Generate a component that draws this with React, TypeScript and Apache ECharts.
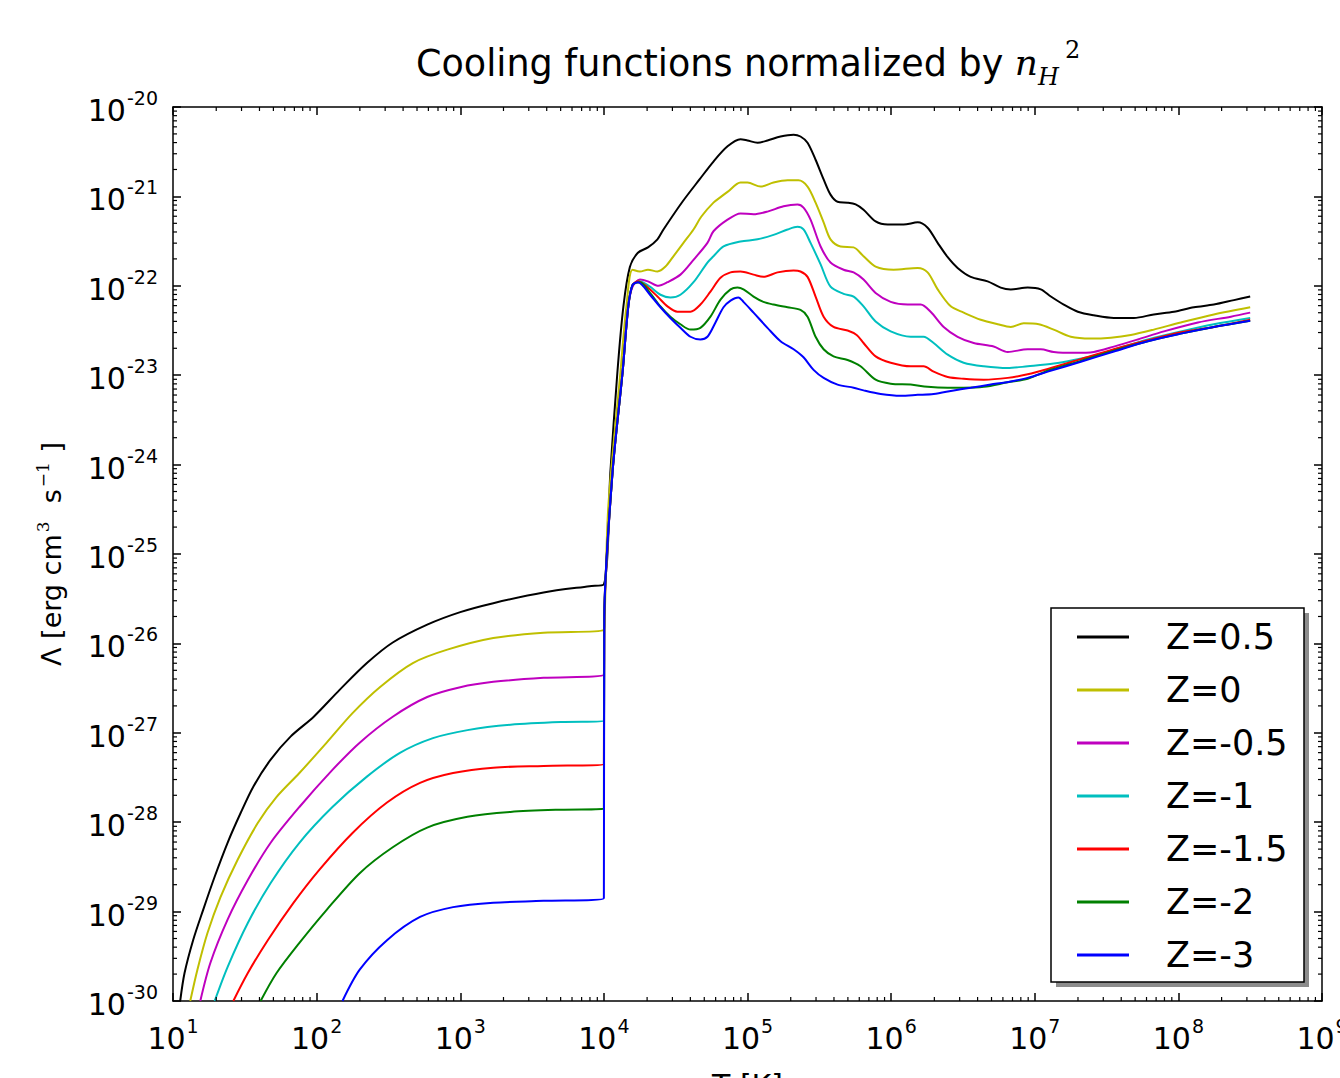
import React, { useEffect, useRef } from "react";
import * as echarts from "echarts";

// log10(T [K]) , log10(Lambda [erg cm^3 s^-1]) pairs
const seriesNames = ["Z=0.5", "Z=0", "Z=-0.5", "Z=-1", "Z=-1.5", "Z=-2", "Z=-3"];
const seriesColors = ["#000000", "#bfbf00", "#bf00bf", "#00bfbf", "#ff0000", "#008000", "#0000ff"];
const xDecades = [1, 2, 3, 4, 5, 6, 7, 8, 9];
const yDecades = [-30, -29, -28, -27, -26, -25, -24, -23, -22, -21, -20];

const z05 = [
  [1.05, -30.0], [1.08, -29.69], [1.14, -29.32], [1.21, -28.98], [1.29, -28.61], [1.38, -28.23], [1.47, -27.9],
  [1.56, -27.6], [1.68, -27.3], [1.82, -27.04], [1.98, -26.82], [2.16, -26.52], [2.35, -26.22], [2.53, -25.99],
  [2.77, -25.79], [3.0, -25.65], [3.23, -25.55], [3.58, -25.43], [3.9, -25.36], [4.0, -25.34],
  [4.045, -24.09], [4.094, -22.97], [4.136, -22.23], [4.181, -21.79], [4.237, -21.63], [4.307, -21.57], [4.373, -21.48],
  [4.415, -21.37], [4.547, -21.06], [4.666, -20.81], [4.763, -20.61], [4.861, -20.44], [4.951, -20.36], [5.0, -20.375],
  [5.07, -20.4], [5.139, -20.375], [5.23, -20.33], [5.321, -20.31], [5.369, -20.33], [5.418, -20.4], [5.474, -20.59],
  [5.53, -20.81], [5.578, -20.98], [5.627, -21.06], [5.697, -21.07], [5.753, -21.09], [5.808, -21.15], [5.892, -21.28],
  [5.976, -21.315], [6.087, -21.315], [6.185, -21.29], [6.254, -21.35], [6.324, -21.52], [6.394, -21.68], [6.463, -21.8],
  [6.554, -21.9], [6.672, -21.95], [6.763, -22.02], [6.833, -22.04], [6.951, -22.02], [7.042, -22.04], [7.112, -22.12],
  [7.202, -22.21], [7.3, -22.29], [7.411, -22.33], [7.551, -22.36], [7.69, -22.36], [7.829, -22.32], [7.969, -22.29],
  [8.108, -22.24], [8.247, -22.21], [8.387, -22.16], [8.5, -22.12],
];

const z0 = [
  [1.12, -30.0], [1.17, -29.65], [1.24, -29.24], [1.33, -28.84], [1.45, -28.42], [1.59, -28.01], [1.72, -27.72],
  [1.88, -27.45], [2.07, -27.11], [2.25, -26.78], [2.44, -26.49], [2.67, -26.22], [2.91, -26.07], [3.23, -25.94],
  [3.58, -25.88], [4.0, -25.85],
  [4.005, -25.73], [4.031, -24.47], [4.115, -22.97], [4.157, -22.23], [4.199, -21.82], [4.251, -21.84], [4.307, -21.82],
  [4.373, -21.84], [4.429, -21.785], [4.484, -21.67], [4.554, -21.52], [4.624, -21.37], [4.679, -21.225], [4.763, -21.07],
  [4.819, -21.0], [4.861, -20.95], [4.951, -20.845], [5.0, -20.845], [5.091, -20.89], [5.181, -20.845], [5.279, -20.82],
  [5.355, -20.82], [5.418, -20.89], [5.474, -21.07], [5.53, -21.29], [5.578, -21.48], [5.648, -21.56], [5.739, -21.57],
  [5.808, -21.67], [5.892, -21.785], [6.017, -21.82], [6.185, -21.8], [6.254, -21.85], [6.324, -22.04], [6.415, -22.23],
  [6.505, -22.3], [6.624, -22.38], [6.742, -22.43], [6.833, -22.46], [6.923, -22.42], [7.028, -22.43], [7.132, -22.49],
  [7.251, -22.57], [7.39, -22.59], [7.53, -22.58], [7.669, -22.55], [7.829, -22.49], [8.017, -22.41], [8.247, -22.32],
  [8.5, -22.24],
];

const zm05 = [
  [1.19, -30.0], [1.26, -29.575], [1.38, -29.09], [1.52, -28.65], [1.68, -28.23], [1.88, -27.83], [2.11, -27.415],
  [2.3, -27.11], [2.53, -26.82], [2.77, -26.6], [3.0, -26.49], [3.23, -26.43], [3.58, -26.385], [4.0, -26.35],
  [4.003, -25.7], [4.06, -24.09], [4.13, -22.97], [4.17, -22.23], [4.2, -22.01], [4.251, -21.93], [4.307, -21.95],
  [4.38, -22.0], [4.443, -21.96], [4.533, -21.875], [4.624, -21.71], [4.721, -21.52], [4.763, -21.39], [4.861, -21.26],
  [4.951, -21.19], [5.042, -21.2], [5.139, -21.17], [5.251, -21.11], [5.348, -21.09], [5.39, -21.125], [5.439, -21.26],
  [5.509, -21.56], [5.578, -21.74], [5.669, -21.82], [5.739, -21.85], [5.808, -21.93], [5.892, -22.08], [5.997, -22.18],
  [6.115, -22.21], [6.206, -22.21], [6.275, -22.29], [6.366, -22.46], [6.463, -22.57], [6.575, -22.64], [6.714, -22.68],
  [6.812, -22.74], [6.951, -22.71], [7.042, -22.71], [7.132, -22.74], [7.272, -22.75], [7.411, -22.74], [7.551, -22.68],
  [7.718, -22.6], [7.899, -22.51], [8.136, -22.41], [8.366, -22.345], [8.5, -22.3],
];

const zm1 = [
  [1.29, -30.0], [1.38, -29.62], [1.52, -29.13], [1.68, -28.68], [1.88, -28.23], [2.11, -27.83], [2.35, -27.49],
  [2.58, -27.225], [2.81, -27.06], [3.05, -26.97], [3.35, -26.91], [3.7, -26.88], [4.0, -26.87],
  [4.003, -25.7], [4.06, -24.09], [4.13, -22.97], [4.17, -22.23], [4.2, -21.99], [4.245, -21.95], [4.321, -22.01],
  [4.394, -22.1], [4.463, -22.13], [4.533, -22.1], [4.624, -21.96], [4.721, -21.74], [4.763, -21.67], [4.833, -21.56],
  [4.951, -21.505], [5.07, -21.48], [5.181, -21.43], [5.279, -21.37], [5.348, -21.34], [5.39, -21.37], [5.439, -21.52],
  [5.509, -21.76], [5.578, -22.01], [5.669, -22.09], [5.739, -22.12], [5.808, -22.23], [5.892, -22.4], [5.997, -22.51],
  [6.136, -22.57], [6.226, -22.57], [6.296, -22.64], [6.394, -22.77], [6.505, -22.86], [6.645, -22.9], [6.812, -22.92],
  [6.951, -22.9], [7.132, -22.87], [7.272, -22.83], [7.439, -22.77], [7.599, -22.69], [7.787, -22.6], [8.017, -22.51],
  [8.247, -22.43], [8.5, -22.36],
];

const zm15 = [
  [1.42, -30.0], [1.52, -29.69], [1.66, -29.32], [1.84, -28.9], [2.02, -28.53], [2.25, -28.12], [2.49, -27.78],
  [2.72, -27.56], [2.95, -27.45], [3.23, -27.39], [3.58, -27.37], [4.0, -27.35],
  [4.003, -25.7], [4.06, -24.09], [4.13, -22.97], [4.17, -22.23], [4.2, -21.99], [4.237, -21.95], [4.3, -22.01],
  [4.373, -22.12], [4.443, -22.23], [4.512, -22.29], [4.603, -22.29], [4.672, -22.21], [4.742, -22.065], [4.812, -21.91],
  [4.882, -21.85], [4.951, -21.84], [5.042, -21.875], [5.111, -21.9], [5.209, -21.85], [5.321, -21.83], [5.369, -21.84],
  [5.418, -21.9], [5.474, -22.12], [5.53, -22.345], [5.599, -22.46], [5.697, -22.5], [5.76, -22.55], [5.808, -22.64],
  [5.892, -22.79], [5.997, -22.86], [6.136, -22.9], [6.226, -22.9], [6.296, -22.96], [6.394, -23.02], [6.505, -23.04],
  [6.645, -23.05], [6.812, -23.03], [6.951, -22.99], [7.091, -22.93], [7.321, -22.82], [7.551, -22.71], [7.787, -22.61],
  [8.017, -22.52], [8.247, -22.46], [8.5, -22.38],
];

const zm2 = [
  [1.61, -30.0], [1.72, -29.69], [1.88, -29.35], [2.07, -28.98], [2.3, -28.57], [2.53, -28.28], [2.77, -28.06],
  [3.05, -27.94], [3.35, -27.885], [3.7, -27.86], [4.0, -27.85],
  [4.003, -25.7], [4.06, -24.09], [4.13, -22.97], [4.17, -22.23], [4.2, -21.99], [4.251, -21.96], [4.321, -22.08],
  [4.394, -22.23], [4.463, -22.345], [4.533, -22.43], [4.603, -22.49], [4.672, -22.47], [4.742, -22.345], [4.812, -22.155],
  [4.882, -22.04], [4.93, -22.02], [4.972, -22.04], [5.042, -22.12], [5.111, -22.18], [5.181, -22.21], [5.279, -22.24],
  [5.369, -22.27], [5.418, -22.345], [5.474, -22.57], [5.53, -22.71], [5.599, -22.79], [5.697, -22.83], [5.787, -22.9],
  [5.892, -23.05], [5.997, -23.095], [6.136, -23.105], [6.254, -23.13], [6.394, -23.14], [6.505, -23.14], [6.645, -23.13],
  [6.812, -23.08], [6.951, -23.04], [7.091, -22.95], [7.321, -22.84], [7.551, -22.725], [7.787, -22.62], [8.017, -22.535],
  [8.247, -22.46], [8.5, -22.39],
];

const zm3 = [
  [2.18, -30.0], [2.3, -29.65], [2.49, -29.32], [2.72, -29.06], [2.95, -28.95], [3.23, -28.9], [3.58, -28.88], [4.0, -28.85],
  [4.003, -25.7], [4.06, -24.09], [4.13, -22.97], [4.17, -22.23], [4.2, -21.99], [4.237, -21.96], [4.321, -22.1],
  [4.394, -22.24], [4.463, -22.36], [4.533, -22.47], [4.603, -22.57], [4.672, -22.6], [4.721, -22.57], [4.777, -22.41],
  [4.833, -22.24], [4.882, -22.165], [4.937, -22.13], [4.972, -22.18], [5.042, -22.3], [5.139, -22.47], [5.23, -22.62],
  [5.321, -22.71], [5.39, -22.8], [5.46, -22.94], [5.53, -23.03], [5.627, -23.105], [5.739, -23.14], [5.808, -23.17],
  [5.927, -23.21], [6.066, -23.23], [6.185, -23.22], [6.296, -23.21], [6.436, -23.17], [6.554, -23.14], [6.693, -23.105],
  [6.833, -23.07], [6.951, -23.03], [7.091, -22.96], [7.321, -22.85], [7.551, -22.735], [7.787, -22.62], [8.017, -22.535],
  [8.247, -22.46], [8.5, -22.39],
];

const seriesData = [z05, z0, zm05, zm1, zm15, zm2, zm3];

// minor tick positions (log10 of 2..9 within each decade)
const minorFactors = [2, 3, 4, 5, 6, 7, 8, 9];

const SANS = "DejaVu Sans";
const SERIF = "DejaVu Serif";

function buildOption() {
  const xMin = xDecades[0];
  const xMax = xDecades[xDecades.length - 1];
  const yMin = yDecades[0];
  const yMax = yDecades[yDecades.length - 1];

  const xMinor: number[][] = [];
  for (let d = xMin; d < xMax; d++) minorFactors.forEach((k) => xMinor.push([d + Math.log10(k), yMin]));
  const yMinor: number[][] = [];
  for (let d = yMin; d < yMax; d++) minorFactors.forEach((k) => yMinor.push([xMin, d + Math.log10(k)]));

  const tickRich = {
    b: { fontSize: 30, fontFamily: SANS, fontWeight: "normal", color: "#000", lineHeight: 32, verticalAlign: "bottom" },
    s: { fontSize: 19, fontFamily: SANS, fontWeight: "normal", color: "#000", verticalAlign: "top", padding: [0, 0, 18, 1] },
  };
  const fmt = (v: number) => "{b|10}{s|" + Math.round(v) + "}";

  const axisLine = { show: true, onZero: false, lineStyle: { color: "#000", width: 1.5 } };
  const majorTick = { show: true, inside: true, length: 8, lineStyle: { color: "#000", width: 1.5 } };

  const baseX = { type: "value", min: xMin, max: xMax, interval: 1, splitLine: { show: false }, axisLine, axisTick: majorTick };
  const baseY = { type: "value", min: yMin, max: yMax, interval: 1, splitLine: { show: false }, axisLine, axisTick: majorTick };

  const lineSeries = seriesNames.map((name, i) => ({
    name,
    type: "line",
    data: seriesData[i],
    color: seriesColors[i],
    showSymbol: false,
    symbol: "none",
    smooth: 0.3,
    lineStyle: { color: seriesColors[i], width: 2 },
    clip: true,
    z: 3,
  }));

  const minorStyle = { stroke: "#000", lineWidth: 1.2 };

  return {
    animation: false,
    backgroundColor: "#ffffff",
    title: {
      text: "{t|Cooling functions normalized by }{n|n}{h|H}{p|2}",
      left: 411,
      top: 33,
      textStyle: {
        fontWeight: "normal",
        rich: {
          t: { fontSize: 36.5, fontFamily: SANS, fontWeight: "normal", color: "#000", lineHeight: 44, verticalAlign: "bottom" },
          n: { fontSize: 36, fontFamily: SERIF, fontStyle: "italic", fontWeight: "normal", color: "#000", verticalAlign: "bottom", padding: [0, 0, 2, 0] },
          h: { fontSize: 24, fontFamily: SERIF, fontStyle: "italic", fontWeight: "normal", color: "#000", verticalAlign: "bottom", padding: [0, 0, -7, 0] },
          p: { fontSize: 24, fontFamily: SERIF, fontWeight: "normal", color: "#000", verticalAlign: "top", padding: [0, 0, 20, 6] },
        },
      },
    },
    grid: { left: 173, top: 107, right: 18, bottom: 77, containLabel: false, outerBoundsMode: "none" },
    legend: {
      data: seriesNames,
      orient: "vertical",
      left: 1077,
      top: 617,
      padding: 0,
      itemGap: 13,
      itemWidth: 52,
      itemHeight: 3,
      icon: "rect",
      selectedMode: false,
      z: 10,
      textStyle: { fontSize: 35, fontFamily: SANS, color: "#000", lineHeight: 40, padding: [0, 0, 0, 32] },
    },
    graphic: [
      { type: "rect", shape: { x: 1056, y: 613, width: 253, height: 374 }, style: { fill: "#8c8c8c" }, z: 5, silent: true },
      {
        type: "rect",
        shape: { x: 1051, y: 608, width: 253, height: 374 },
        style: { fill: "#ffffff", stroke: "#000", lineWidth: 1.5 },
        z: 6,
        silent: true,
      },
    ],
    xAxis: [
      {
        ...baseX,
        position: "bottom",
        name: "T [K]",
        nameLocation: "middle",
        nameGap: 69,
        nameTextStyle: { fontSize: 30, fontFamily: SANS, color: "#000" },
        axisLabel: { show: true, margin: 15, formatter: fmt, rich: tickRich, color: "#000" },
      },
      { ...baseX, position: "top", axisLabel: { show: false } },
    ],
    yAxis: [
      {
        ...baseY,
        position: "left",
        name: "{a|Λ [erg cm}{s|3}{a|  s}{s|−1}{a| ]}",
        nameLocation: "middle",
        nameRotate: 90,
        nameGap: 108,
        nameTextStyle: {
          rich: {
            a: { fontSize: 27, fontFamily: SANS, color: "#000", lineHeight: 30, verticalAlign: "bottom" },
            s: { fontSize: 17, fontFamily: SERIF, color: "#000", verticalAlign: "top", padding: [0, 1, 14, 2] },
          },
        },
        axisLabel: { show: true, margin: 15, formatter: fmt, rich: tickRich, color: "#000" },
      },
      { ...baseY, position: "right", axisLabel: { show: false } },
    ],
    series: [
      ...lineSeries,
      {
        type: "custom",
        name: "xminor",
        silent: true,
        xAxisIndex: 0,
        yAxisIndex: 0,
        data: xMinor,
        z: 4,
        renderItem: (params: any, api: any) => {
          const cs = params.coordSys;
          const p = api.coord([api.value(0), api.value(1)]);
          const bottom = cs.y + cs.height;
          return {
            type: "group",
            children: [
              { type: "line", shape: { x1: p[0], y1: bottom, x2: p[0], y2: bottom - 4 }, style: minorStyle },
              { type: "line", shape: { x1: p[0], y1: cs.y, x2: p[0], y2: cs.y + 4 }, style: minorStyle },
            ],
          };
        },
      },
      {
        type: "custom",
        name: "yminor",
        silent: true,
        xAxisIndex: 0,
        yAxisIndex: 0,
        data: yMinor,
        z: 4,
        renderItem: (params: any, api: any) => {
          const cs = params.coordSys;
          const p = api.coord([api.value(0), api.value(1)]);
          const right = cs.x + cs.width;
          return {
            type: "group",
            children: [
              { type: "line", shape: { x1: cs.x, y1: p[1], x2: cs.x + 4, y2: p[1] }, style: minorStyle },
              { type: "line", shape: { x1: right, y1: p[1], x2: right - 4, y2: p[1] }, style: minorStyle },
            ],
          };
        },
      },
    ],
  };
}

export default function App() {
  const ref = useRef<HTMLDivElement>(null);
  useEffect(() => {
    document.body.style.margin = "0";
    document.body.style.overflow = "hidden";
    const chart = echarts.init(ref.current as HTMLDivElement, null, { renderer: "svg", width: 1340, height: 1078 });
    chart.setOption(buildOption() as any);
    return () => chart.dispose();
  }, []);
  return <div ref={ref} style={{ width: 1340, height: 1078, background: "#fff", position: "absolute", left: 0, top: 0 }} />;
}
